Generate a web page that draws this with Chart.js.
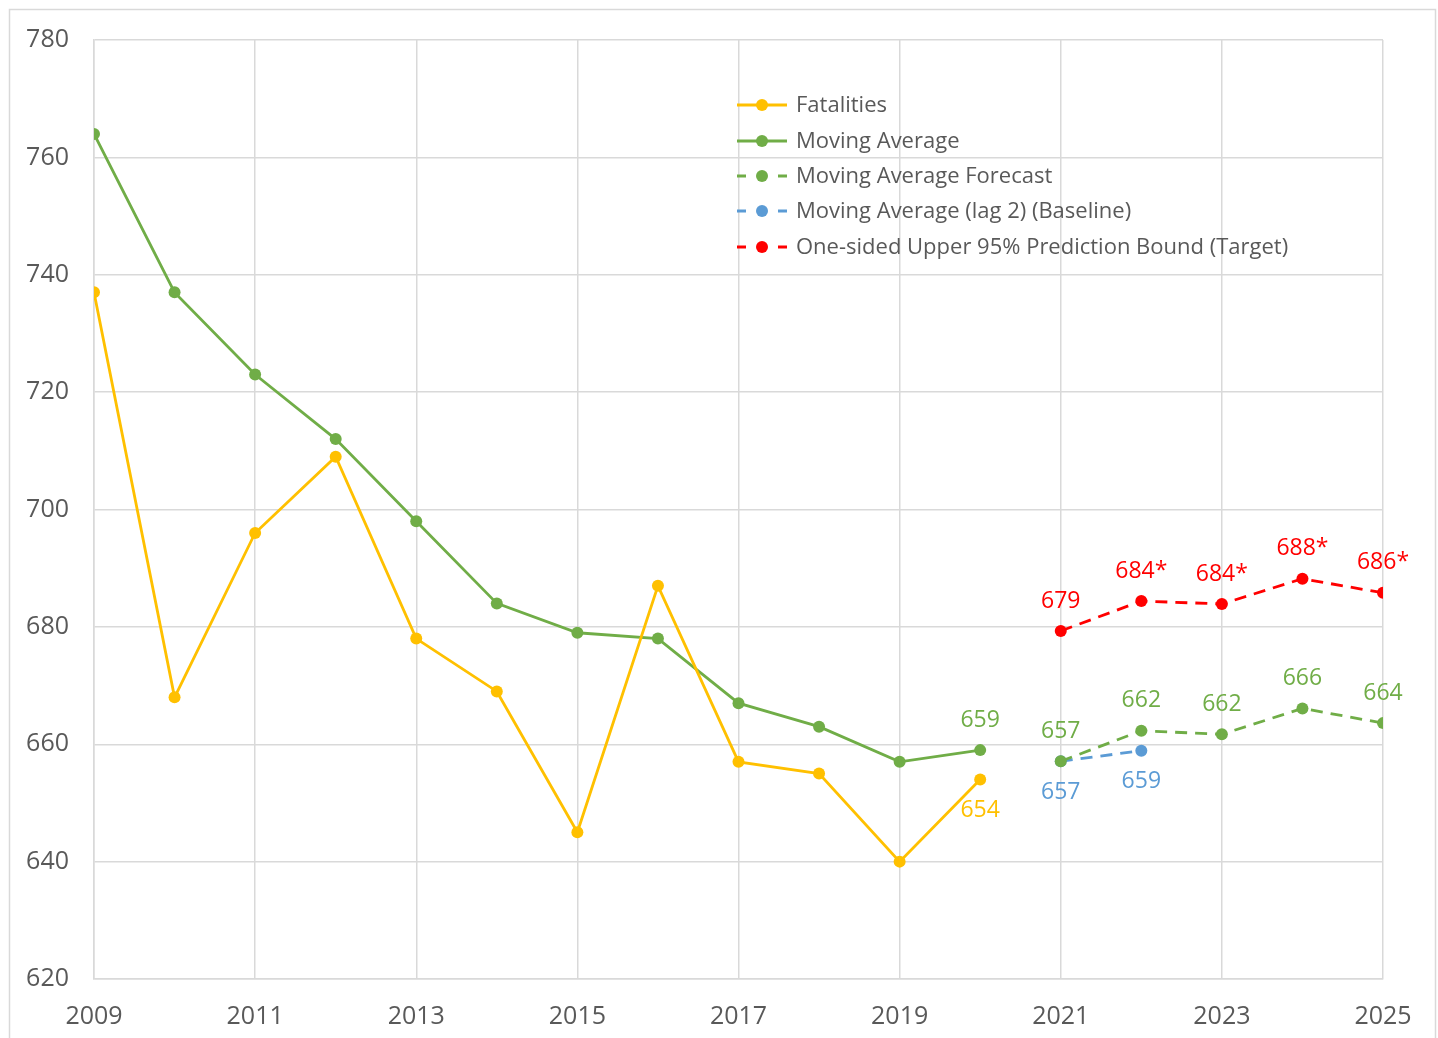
<!DOCTYPE html>
<html>
<head>
<meta charset="utf-8">
<style>
  html, body { margin: 0; padding: 0; background: #fff; }
  #wrap { width: 1438px; height: 1038px; position: relative; }
</style>
<script src="https://cdn.jsdelivr.net/npm/chart.js@4"></script>
</head>
<body>
<div id="wrap"><canvas id="fatalChart" width="1438" height="1038"></canvas></div>
<script>
// years
const histYears = [2009, 2010, 2011, 2012, 2013, 2014, 2015, 2016, 2017, 2018, 2019, 2020];
const fcstYears = [2021, 2022, 2023, 2024, 2025];
const baseYears = [2021, 2022];

// values
const fatalities = [737, 668, 696, 709, 678, 669, 645, 687, 657, 655, 640, 654];
const movingAvg = [764, 737, 723, 712, 698, 684, 679, 678, 667, 663, 657, 659];
const maForecast = [657.1, 662.3, 661.7, 666.1, 663.6];
const baseline = [657.1, 658.9];
const target = [679.3, 684.4, 683.9, 688.2, 685.8];

// data labels (null = none)
const fatalLabels = [null, null, null, null, null, null, null, null, null, null, null, "654"];
const maLabels = [null, null, null, null, null, null, null, null, null, null, null, "659"];
const fcstLabels = ["657", "662", "662", "666", "664"];
const baseLabels = ["657", "659"];
const targetLabels = ["679", "684*", "684*", "688*", "686*"];

const yTicks = [620, 640, 660, 680, 700, 720, 740, 760, 780];
const xTicks = [2009, 2011, 2013, 2015, 2017, 2019, 2021, 2023, 2025];

const FONT = "'Open Sans', 'Noto Sans', sans-serif";
const GRID = "#d9d9d9";
const YELLOW = "#FFC000", GREEN = "#70AD47", BLUE = "#5B9BD5", RED = "#FF0000";

const pts = (xs, ys) => xs.map((x, i) => ({x: x, y: ys[i]}));

function series(label, xs, ys, color, dashed, labels, labelPos) {
  return {
    label: label,
    data: pts(xs, ys),
    borderColor: color,
    backgroundColor: color,
    borderWidth: 2.8,
    borderDash: dashed ? [12, 8] : [],
    pointRadius: 6,
    pointBorderWidth: 0,
    pointBackgroundColor: color,
    tension: 0,
    dashed: dashed,
    valueLabels: labels,
    labelPos: labelPos
  };
}

const datasets = [
  series("Fatalities", histYears, fatalities, YELLOW, false, fatalLabels, "below"),
  series("Moving Average", histYears, movingAvg, GREEN, false, maLabels, "above"),
  series("Moving Average Forecast", fcstYears, maForecast, GREEN, true, fcstLabels, "above"),
  series("Moving Average (lag 2) (Baseline)", baseYears, baseline, BLUE, true, baseLabels, "below"),
  series("One-sided Upper 95% Prediction Bound (Target)", fcstYears, target, RED, true, targetLabels, "above")
];

// outer border
const frame = {
  id: "frame",
  beforeDraw(chart) {
    const c = chart.ctx;
    c.save();
    c.strokeStyle = GRID;
    c.lineWidth = 1.5;
    c.strokeRect(9.5, 9.5, 1426, 1060);
    c.restore();
  }
};

// value labels
const valueLabels = {
  id: "valueLabels",
  afterDatasetsDraw(chart) {
    const c = chart.ctx;
    c.save();
    c.font = "23px " + FONT;
    c.textAlign = "center";
    c.textBaseline = "middle";
    chart.data.datasets.forEach((ds, i) => {
      const meta = chart.getDatasetMeta(i);
      meta.data.forEach((p, j) => {
        const t = ds.valueLabels[j];
        if (!t) return;
        c.fillStyle = ds.borderColor;
        const dy = ds.labelPos === "above" ? -30 : 31;
        c.fillText(t, p.x, p.y + dy);
      });
    });
    c.restore();
  }
};

// legend inside plot
const innerLegend = {
  id: "innerLegend",
  afterDraw(chart) {
    const c = chart.ctx;
    const x0 = 737, rowY = [105, 141, 176, 211, 247];
    c.save();
    c.font = "22px " + FONT;
    c.textBaseline = "middle";
    c.textAlign = "left";
    chart.data.datasets.forEach((ds, i) => {
      const y = rowY[i];
      c.strokeStyle = ds.borderColor;
      c.lineWidth = 2.8;
      c.beginPath();
      if (ds.dashed) {
        c.moveTo(x0, y); c.lineTo(x0 + 9, y);
        c.moveTo(x0 + 41, y); c.lineTo(x0 + 50, y);
      } else {
        c.moveTo(x0, y); c.lineTo(x0 + 50, y);
      }
      c.stroke();
      c.fillStyle = ds.borderColor;
      c.beginPath();
      c.arc(x0 + 25, y, 6, 0, Math.PI * 2);
      c.fill();
      c.fillStyle = "#595959";
      c.fillText(ds.label, x0 + 59, y + 1);
    });
    c.restore();
  }
};

new Chart(document.getElementById("fatalChart").getContext("2d"), {
  type: "line",
  data: { datasets: datasets },
  options: {
    responsive: false,
    animation: false,
    layout: { padding: { top: 38, right: 55, left: 0, bottom: 0 } },
    plugins: {
      legend: { display: false },
      tooltip: { enabled: false }
    },
    scales: {
      x: {
        type: "linear",
        min: 2009,
        max: 2025,
        afterBuildTicks(axis) { axis.ticks = xTicks.map(v => ({value: v})); },
        afterFit(axis) { axis.height = 59; },
        grid: { color: GRID, lineWidth: 1.5, drawTicks: false },
        border: { color: GRID, width: 1.5 },
        ticks: {
          padding: 23,
          color: "#595959",
          font: { family: FONT, size: 25 },
          callback: v => String(v)
        }
      },
      y: {
        min: 620,
        max: 780,
        afterBuildTicks(axis) { axis.ticks = yTicks.map(v => ({value: v})); },
        afterFit(axis) { axis.width = 94; },
        grid: { color: GRID, lineWidth: 1.5, drawTicks: false },
        border: { color: GRID, width: 1.5 },
        ticks: {
          padding: 25,
          color: "#595959",
          font: { family: FONT, size: 25 }
        }
      }
    }
  },
  plugins: [frame, valueLabels, innerLegend]
});
</script>
</body>
</html>
